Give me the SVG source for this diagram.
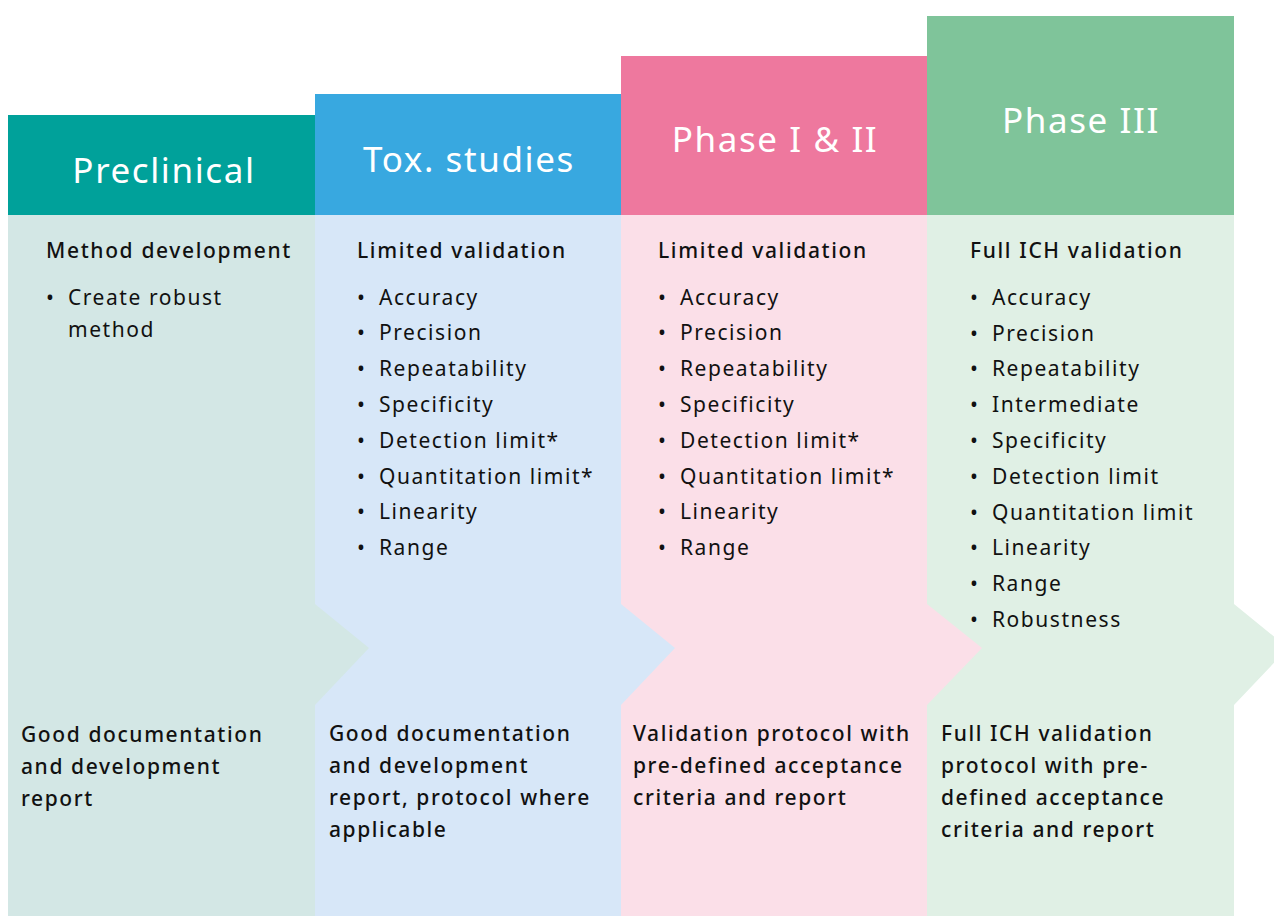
<svg xmlns="http://www.w3.org/2000/svg" width="1274" height="916" viewBox="0 0 1274 916">
<style>
.hd{font-family:"Noto Sans","Open Sans",sans-serif;font-size:35px;letter-spacing:1.6px;fill:#fff;text-anchor:middle}
.h2{font-family:"Noto Sans","Open Sans",sans-serif;font-size:21px;font-weight:500;letter-spacing:1.65px;fill:#111}
.t{font-family:"Noto Sans","Open Sans",sans-serif;font-size:21px;letter-spacing:1.55px;fill:#111}
.b{font-family:"Noto Sans","Open Sans",sans-serif;font-size:21px;font-weight:500;letter-spacing:1.6px;fill:#111}
</style>
<rect width="1274" height="916" fill="#fff"/>
<g id="phase3">
<polygon points="927,215 1234,215 1234,604 1288,648 1234,705 1234,916 927,916" fill="#E0F0E5"/>
<rect x="927" y="16" width="307" height="199" fill="#7FC49A"/>
<text class="hd" x="1081" y="133">Phase III</text>
<text class="h2" x="970" y="258">Full ICH validation</text>
<g class="t">
<text x="970" y="305">•</text><text x="992" y="305">Accuracy</text>
<text x="970" y="341">•</text><text x="992" y="341">Precision</text>
<text x="970" y="376">•</text><text x="992" y="376">Repeatability</text>
<text x="970" y="412">•</text><text x="992" y="412">Intermediate</text>
<text x="970" y="448">•</text><text x="992" y="448">Specificity</text>
<text x="970" y="484">•</text><text x="992" y="484">Detection limit</text>
<text x="970" y="520">•</text><text x="992" y="520">Quantitation limit</text>
<text x="970" y="555">•</text><text x="992" y="555">Linearity</text>
<text x="970" y="591">•</text><text x="992" y="591">Range</text>
<text x="970" y="627">•</text><text x="992" y="627">Robustness</text>
</g>
<g class="b">
<text x="941" y="741">Full ICH validation</text>
<text x="941" y="773">protocol with pre-</text>
<text x="941" y="805">defined acceptance</text>
<text x="941" y="837">criteria and report</text>
</g>
</g>
<g id="phase12">
<polygon points="621,215 927,215 927,604 982,648 927,705 927,916 621,916" fill="#FBDFE8"/>
<rect x="621" y="56" width="306" height="159" fill="#EE789E"/>
<text class="hd" x="775" y="152">Phase I &amp; II</text>
<text class="h2" x="658" y="258">Limited validation</text>
<g class="t">
<text x="658" y="305">•</text><text x="680" y="305">Accuracy</text>
<text x="658" y="340">•</text><text x="680" y="340">Precision</text>
<text x="658" y="376">•</text><text x="680" y="376">Repeatability</text>
<text x="658" y="412">•</text><text x="680" y="412">Specificity</text>
<text x="658" y="448">•</text><text x="680" y="448">Detection limit*</text>
<text x="658" y="484">•</text><text x="680" y="484">Quantitation limit*</text>
<text x="658" y="519">•</text><text x="680" y="519">Linearity</text>
<text x="658" y="555">•</text><text x="680" y="555">Range</text>
</g>
<g class="b">
<text x="633" y="741">Validation protocol with</text>
<text x="633" y="773">pre-defined acceptance</text>
<text x="633" y="805">criteria and report</text>
</g>
</g>
<g id="tox">
<polygon points="315,215 621,215 621,604 675,648 621,705 621,916 315,916" fill="#D7E7F8"/>
<rect x="315" y="94" width="306" height="121" fill="#38A8E0"/>
<text class="hd" x="469" y="172">Tox. studies</text>
<text class="h2" x="357" y="258">Limited validation</text>
<g class="t">
<text x="357" y="305">•</text><text x="379" y="305">Accuracy</text>
<text x="357" y="340">•</text><text x="379" y="340">Precision</text>
<text x="357" y="376">•</text><text x="379" y="376">Repeatability</text>
<text x="357" y="412">•</text><text x="379" y="412">Specificity</text>
<text x="357" y="448">•</text><text x="379" y="448">Detection limit*</text>
<text x="357" y="484">•</text><text x="379" y="484">Quantitation limit*</text>
<text x="357" y="519">•</text><text x="379" y="519">Linearity</text>
<text x="357" y="555">•</text><text x="379" y="555">Range</text>
</g>
<g class="b">
<text x="329" y="741">Good documentation</text>
<text x="329" y="773">and development</text>
<text x="329" y="805">report, protocol where</text>
<text x="329" y="837">applicable</text>
</g>
</g>
<g id="preclinical">
<polygon points="8,215 315,215 315,604 369,648 315,705 315,916 8,916" fill="#D3E7E5"/>
<rect x="8" y="115" width="307" height="100" fill="#00A19A"/>
<text class="hd" x="164" y="183">Preclinical</text>
<text class="h2" x="46" y="258">Method development</text>
<g class="t">
<text x="46" y="305">•</text><text x="68" y="305">Create robust</text>
<text x="68" y="337">method</text>
</g>
<g class="b">
<text x="21" y="742">Good documentation</text>
<text x="21" y="774">and development</text>
<text x="21" y="806">report</text>
</g>
</g>
<g id="connectors"></g>
</svg>
